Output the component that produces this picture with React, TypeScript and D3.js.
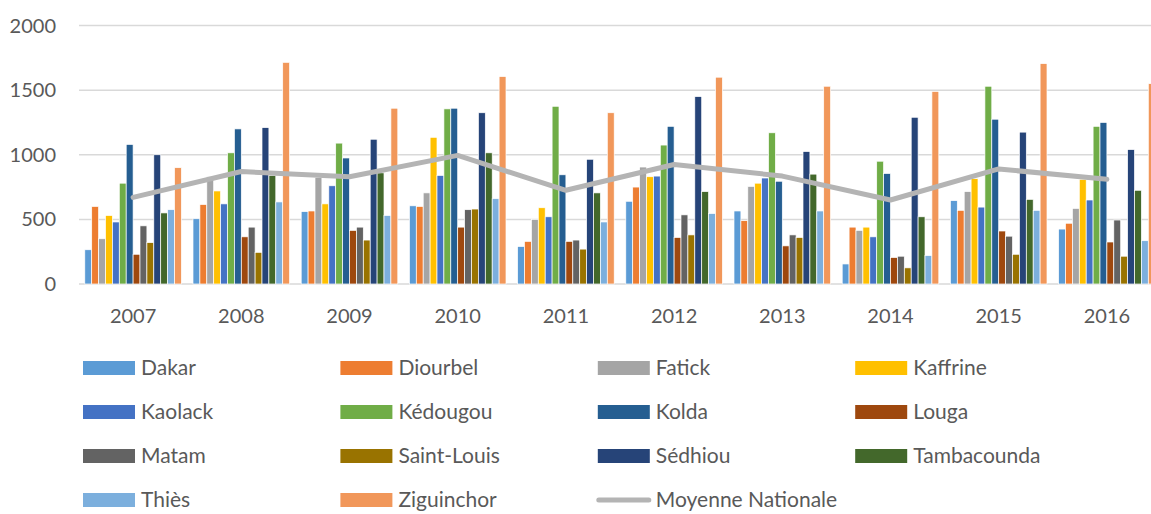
import React, { useRef, useEffect } from "react";
import * as d3 from "d3";

// years on the x axis
const years = ["2007", "2008", "2009", "2010", "2011", "2012", "2013", "2014", "2015", "2016"];

const regions = [
  "Dakar", "Diourbel", "Fatick", "Kaffrine", "Kaolack", "Kédougou", "Kolda",
  "Louga", "Matam", "Saint-Louis", "Sédhiou", "Tambacounda", "Thiès", "Ziguinchor",
];

const regionColors = [
  "#5B9BD5", "#ED7D31", "#A5A5A5", "#FFC000", "#4472C4", "#70AD47", "#255E91",
  "#9E480E", "#636363", "#997300", "#264478", "#43682B", "#7CAFDD", "#F1975A",
];

// one row per region, one value per year
const dakar = [265, 505, 560, 605, 290, 640, 565, 155, 645, 425];
const diourbel = [600, 615, 565, 600, 330, 750, 490, 440, 570, 470];
const fatick = [350, 830, 825, 705, 500, 905, 755, 415, 715, 585];
const kaffrine = [530, 720, 620, 1135, 590, 830, 780, 440, 815, 810];
const kaolack = [480, 620, 760, 840, 520, 835, 820, 365, 595, 650];
const kedougou = [780, 1015, 1090, 1355, 1375, 1075, 1170, 950, 1530, 1220];
const kolda = [1080, 1200, 975, 1360, 845, 1220, 795, 855, 1275, 1250];
const louga = [230, 365, 415, 440, 330, 360, 295, 205, 410, 325];
const matam = [450, 440, 440, 575, 340, 535, 380, 215, 370, 495];
const saintLouis = [320, 245, 340, 580, 270, 380, 360, 125, 230, 215];
const sedhiou = [1000, 1210, 1120, 1325, 965, 1450, 1025, 1290, 1175, 1040];
const tambacounda = [550, 840, 860, 1015, 705, 715, 850, 520, 655, 725];
const thies = [575, 635, 530, 660, 480, 545, 565, 220, 570, 335];
const ziguinchor = [900, 1715, 1360, 1605, 1325, 1600, 1530, 1490, 1705, 1550];

const regionValues = [
  dakar, diourbel, fatick, kaffrine, kaolack, kedougou, kolda,
  louga, matam, saintLouis, sedhiou, tambacounda, thies, ziguinchor,
];

const moyenne = [670, 870, 830, 995, 725, 925, 835, 650, 890, 810];
const moyenneLabel = "Moyenne Nationale";

const yTicks = [0, 500, 1000, 1500, 2000];

export default function App() {
  const ref = useRef<SVGSVGElement>(null);
  const width = 1151, height = 514;

  useEffect(() => {
    const svg = d3.select(ref.current);
    svg.selectAll("*").remove();

    const font = "Lato, 'Open Sans', sans-serif";
    const textColor = "#595959";

    const x0 = d3.scaleBand<string>().domain(years).range([79, 1161]).padding(0);
    const x1 = d3.scaleBand<string>().domain(regions).range([0, x0.bandwidth()]).paddingOuter(0.84);
    const y = d3.scaleLinear().domain([0, 2000]).range([284, 25.5]);

    // grid lines
    svg.append("g")
      .selectAll("line")
      .data(yTicks)
      .join("line")
      .attr("x1", 79)
      .attr("x2", width)
      .attr("y1", (d) => y(d))
      .attr("y2", (d) => y(d))
      .attr("stroke", "#d9d9d9")
      .attr("stroke-width", 1.5);

    // y labels
    svg.append("g")
      .selectAll("text")
      .data(yTicks)
      .join("text")
      .attr("x", 56)
      .attr("y", (d) => y(d))
      .attr("dy", "0.35em")
      .attr("text-anchor", "end")
      .attr("font-family", font)
      .attr("font-size", 20)
      .attr("fill", textColor)
      .text((d) => String(d));

    // x labels
    svg.append("g")
      .selectAll("text")
      .data(years)
      .join("text")
      .attr("x", (d) => (x0(d) ?? 0) + x0.bandwidth() / 2)
      .attr("y", 323)
      .attr("text-anchor", "middle")
      .attr("font-family", font)
      .attr("font-size", 20)
      .attr("fill", textColor)
      .text((d) => d);

    // bars
    const groups = svg.append("g")
      .selectAll("g")
      .data(years)
      .join("g")
      .attr("transform", (d) => `translate(${x0(d)},0)`);

    groups.selectAll("rect")
      .data((_, yi) => regions.map((r, ri) => ({ r, ri, v: regionValues[ri][yi] })))
      .join("rect")
      .attr("x", (d) => x1(d.r) ?? 0)
      .attr("y", (d) => y(d.v))
      .attr("width", x1.bandwidth())
      .attr("height", (d) => y(0) - y(d.v))
      .attr("fill", (d) => regionColors[d.ri])
      .attr("stroke", "#fff")
      .attr("stroke-width", 0.7);

    // national average line
    const line = d3.line<number>()
      .x((_, i) => (x0(years[i]) ?? 0) + x0.bandwidth() / 2)
      .y((d) => y(d));

    svg.append("path")
      .datum(moyenne)
      .attr("d", line)
      .attr("fill", "none")
      .attr("stroke", "#b4b4b4")
      .attr("stroke-width", 5)
      .attr("stroke-linecap", "round")
      .attr("stroke-linejoin", "round");

    // legend: 4 columns
    const legendItems = [...regions, moyenneLabel];
    const legend = svg.append("g");
    legendItems.forEach((name, i) => {
      const col = i % 4, row = Math.floor(i / 4);
      const lx = 83 + col * 257.4;
      const ly = 368 + row * 44;
      if (name === moyenneLabel) {
        legend.append("line")
          .attr("x1", lx + 1)
          .attr("x2", lx + 51)
          .attr("y1", ly)
          .attr("y2", ly)
          .attr("stroke", "#b4b4b4")
          .attr("stroke-width", 5)
          .attr("stroke-linecap", "round");
      } else {
        legend.append("rect")
          .attr("x", lx)
          .attr("y", ly - 7)
          .attr("width", 52)
          .attr("height", 14)
          .attr("fill", regionColors[i]);
      }
      legend.append("text")
        .attr("x", lx + 58)
        .attr("y", ly)
        .attr("dy", "0.35em")
        .attr("font-family", font)
        .attr("font-size", 21)
        .attr("fill", textColor)
        .text(name);
    });
  }, []);

  return (
    <svg
      ref={ref}
      width={width}
      height={height}
      style={{ position: "absolute", left: 0, top: 0, display: "block", background: "#fff" }}
    />
  );
}
